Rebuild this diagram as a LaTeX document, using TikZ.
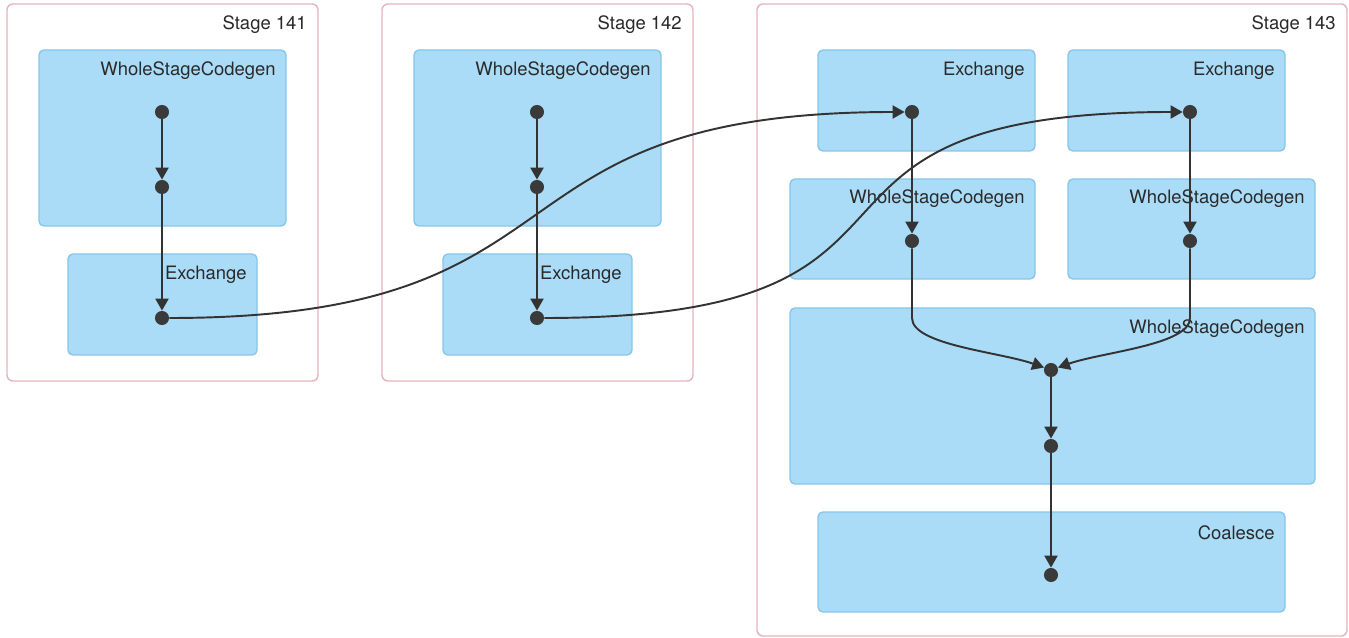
\documentclass[tikz,border=0pt]{standalone}
\usepackage{fontspec}
\setmainfont{TeX Gyre Heros}
\usetikzlibrary{arrows.meta}
\definecolor{opfill}{HTML}{AADCF8}
\definecolor{opline}{HTML}{88C6EA}
\definecolor{stageline}{HTML}{E4B5C0}
\definecolor{dotgray}{HTML}{3A3A3A}
\definecolor{linegray}{HTML}{333333}
\definecolor{textgray}{HTML}{2A2A2A}

\begin{document}
\begin{tikzpicture}[x=0.02cm,y=-0.02cm,
    stage/.style={draw=stageline, fill=white, rounded corners=3.4pt, line width=0.8pt},
    opbox/.style={draw=opline, fill=opfill, rounded corners=2.8pt, line width=0.8pt},
    caption/.style={anchor=east, inner sep=0pt, text=textgray, font=\fontsize{10.5}{12}\selectfont},
    dot/.style={circle, fill=dotgray, inner sep=0pt, minimum size=8pt},
    flow/.style={draw=linegray, line width=1.1pt, -{Triangle[length=6.8pt,width=7.4pt]}}]
  \useasboundingbox (0,0) rectangle (1349,638); % pixel frame of the reference
  % stage 141
  \draw[stage] (7,4) rectangle (318,381);
  \node[caption] (s141) at (307,25) {Stage 141};
  \draw[opbox] (39,50) rectangle (286,226);
  \node[caption] (l141a) at (276,71) {WholeStageCodegen};
  \draw[opbox] (68,254) rectangle (257,355);
  \node[caption] (l141b) at (247,275) {Exchange};
  % stage 142
  \draw[stage] (382,4) rectangle (693,381);
  \node[caption] (s142) at (682,25) {Stage 142};
  \draw[opbox] (414,50) rectangle (661,226);
  \node[caption] (l142a) at (651,71) {WholeStageCodegen};
  \draw[opbox] (443,254) rectangle (632,355);
  \node[caption] (l142b) at (622,275) {Exchange};
  % stage 143
  \draw[stage] (757,4) rectangle (1347,636);
  \node[caption] (s143) at (1336,25) {Stage 143};
  \draw[opbox] (818,50) rectangle (1035,151);
  \node[caption] (l143a) at (1025,71) {Exchange};
  \draw[opbox] (1068,50) rectangle (1285,151);
  \node[caption] (l143b) at (1275,71) {Exchange};
  \draw[opbox] (790,179) rectangle (1035,279);
  \node[caption] (l143c) at (1025,199) {WholeStageCodegen};
  \draw[opbox] (1068,179) rectangle (1315,279);
  \node[caption] (l143d) at (1305,199) {WholeStageCodegen};
  \draw[opbox] (790,308) rectangle (1315,484);
  \node[caption] (l143e) at (1305,329) {WholeStageCodegen};
  \draw[opbox] (818,512) rectangle (1285,612);
  \node[caption] (l143f) at (1275,533) {Coalesce};
  % operator dots
  \node[dot] (w141a) at (162,112) {};
  \node[dot] (w141b) at (162,187) {};
  \node[dot] (x141) at (162,318) {};
  \node[dot] (w142a) at (537,112) {};
  \node[dot] (w142b) at (537,187) {};
  \node[dot] (x142) at (537,318) {};
  \node[dot] (x143a) at (912,112) {};
  \node[dot] (x143b) at (1190,112) {};
  \node[dot] (w143a) at (912,241) {};
  \node[dot] (w143b) at (1190,241) {};
  \node[dot] (j143) at (1051,370) {};
  \node[dot] (w143c) at (1051,446) {};
  \node[dot] (c143) at (1051,575) {};
  \coordinate (bendA) at (912,318);
  \coordinate (bendB) at (1190,318);
  % edges
  \draw[flow] (w141a) -- (w141b);
  \draw[flow] (w141b) -- (x141);
  \draw[flow] (w142a) -- (w142b);
  \draw[flow] (w142b) -- (x142);
  \draw[flow] (x141) .. controls +(443,0) and +(-443,0) .. (x143a);
  \draw[flow] (x142) .. controls +(450,0) and +(-450,0) .. (x143b);
  \draw[flow] (x143a) -- (w143a);
  \draw[flow] (x143b) -- (w143b);
  \draw[flow] (w143a) -- (bendA) .. controls (912,345) and (1000,352) .. (j143);
  \draw[flow] (w143b) -- (bendB) .. controls (1190,345) and (1102,352) .. (j143);
  \draw[flow] (j143) -- (w143c);
  \draw[flow] (w143c) -- (c143);
\end{tikzpicture}
\end{document}
